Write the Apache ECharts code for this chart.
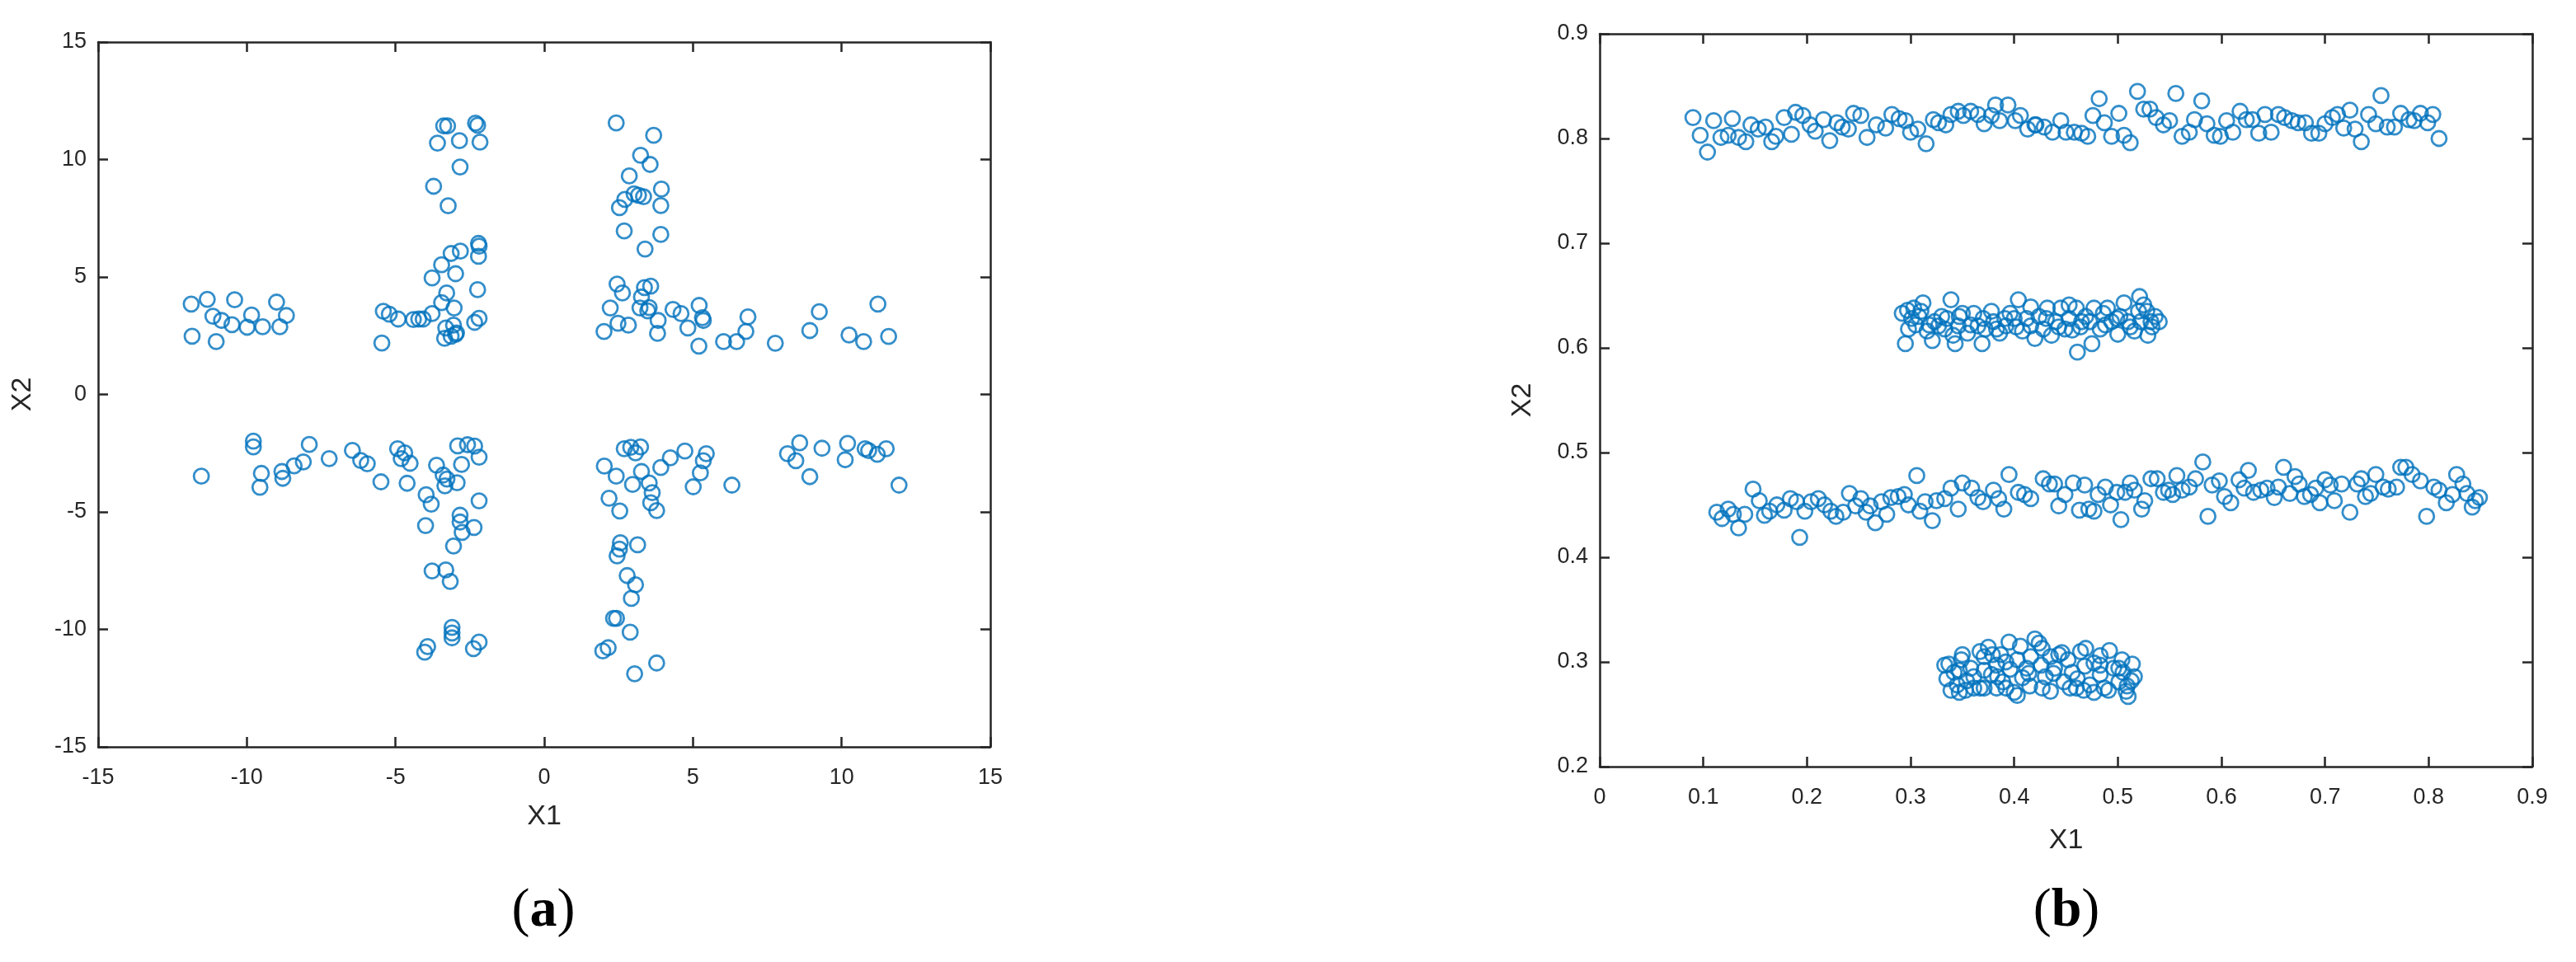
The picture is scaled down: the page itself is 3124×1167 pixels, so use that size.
<!DOCTYPE html>
<html>
<head>
<meta charset="utf-8">
<title>Scatter (a) / (b)</title>
<script src="https://cdn.jsdelivr.net/npm/echarts@6/dist/echarts.min.js"></script>
<style>
  html, body { margin: 0; padding: 0; background: #fff; }
  #chart { width: 3124px; height: 1167px; }
</style>
</head>
<body>
<div id="chart"></div>
<script>
// ---- panel (a): four arms of the cross, [X1, X2]
var aUpperLeft = [
  [-11.87,3.85],[-11.33,4.05],[-10.41,4.03],[-11.14,3.33],[-10.85,3.15],[-10.50,2.97],[-9.84,3.38],[-9.99,2.86],
  [-9.47,2.88],[-9.00,3.93],[-8.67,3.36],[-8.89,2.88],[-11.84,2.48],[-11.03,2.25],
  [-3.38,11.43],[-3.25,11.43],[-2.31,11.55],[-2.24,11.46],[-3.59,10.70],[-2.85,10.80],[-2.16,10.74],[-2.83,9.68],
  [-3.72,8.86],[-3.23,8.03],
  [-2.21,6.43],[-2.19,6.31],[-2.82,6.10],[-3.13,6.00],[-2.21,5.88],[-3.45,5.52],[-2.98,5.14],[-3.77,4.96],
  [-2.24,4.46],[-3.28,4.32],[-3.45,3.91],[-3.03,3.68],[-3.77,3.44],[-4.07,3.21],[-4.22,3.21],[-4.40,3.19],
  [-4.91,3.21],[-5.21,3.42],[-5.41,3.54],[-5.46,2.19],[-3.31,2.83],[-3.05,2.95],[-3.35,2.39],[-2.98,2.56],
  [-3.13,2.48],[-2.19,3.24],[-2.34,3.07],[-2.95,2.62]
];
var aUpperRight = [
  [2.42,11.56],[3.68,11.03],[3.24,10.18],[3.56,9.79],[2.86,9.30],[3.94,8.74],[3.02,8.54],[3.17,8.48],
  [3.34,8.42],[2.71,8.30],[2.53,7.95],[3.92,8.04],[2.69,6.96],[3.92,6.81],[3.39,6.19],
  [2.45,4.70],[2.63,4.32],[3.58,4.61],[3.37,4.55],[3.27,4.15],[2.22,3.68],[3.22,3.68],[3.53,3.70],
  [3.48,3.56],[4.33,3.62],[4.60,3.44],[5.21,3.79],[5.32,3.27],[5.35,3.15],[3.83,3.15],[2.48,3.03],
  [2.83,2.95],[2.01,2.68],[3.81,2.60],[4.83,2.83],[5.20,2.06],[6.03,2.25],[6.47,2.25],[6.78,2.68],
  [6.85,3.30],[7.77,2.18],[8.93,2.72],[9.25,3.52],[10.25,2.53],[10.74,2.25],[11.22,3.85],[11.58,2.47]
];
var aLowerLeft = [
  [-11.53,-3.48],[-9.78,-1.99],[-9.78,-2.23],[-9.51,-3.36],[-9.56,-3.95],[-8.82,-3.28],[-8.79,-3.57],
  [-8.41,-3.04],[-8.10,-2.87],[-7.90,-2.13],[-7.23,-2.73],[-6.45,-2.38],[-6.17,-2.81],[-5.95,-2.95],
  [-5.49,-3.72],[-4.93,-2.31],[-4.69,-2.49],[-4.81,-2.73],[-4.51,-2.93],[-4.61,-3.78],
  [-2.91,-2.19],[-2.58,-2.14],[-2.34,-2.20],[-2.19,-2.67],[-2.78,-2.98],[-3.62,-3.01],[-3.40,-3.43],
  [-3.27,-3.60],[-3.34,-3.89],[-2.93,-3.76],[-3.97,-4.27],[-3.80,-4.67],[-2.19,-4.53],[-3.99,-5.58],
  [-2.83,-5.14],[-2.83,-5.43],[-2.76,-5.87],[-2.36,-5.66],[-3.05,-6.45],[-3.77,-7.51],[-3.31,-7.47],
  [-3.16,-7.96],[-3.10,-9.92],[-3.10,-10.15],[-3.10,-10.36],[-2.19,-10.54],[-2.38,-10.82],[-3.92,-10.73],
  [-4.02,-10.97]
];
var aLowerRight = [
  [2.69,-2.31],[2.91,-2.25],[3.24,-2.23],[3.07,-2.49],[2.02,-3.05],[2.42,-3.48],[3.27,-3.28],[2.97,-3.83],
  [3.53,-3.77],[3.63,-4.18],[3.58,-4.61],[3.78,-4.94],[2.18,-4.42],[2.54,-4.96],[3.92,-3.11],[4.24,-2.70],
  [4.73,-2.41],[5.45,-2.52],[5.35,-2.82],[5.25,-3.34],[5.01,-3.93],[6.31,-3.86],[8.18,-2.52],[8.59,-2.06],
  [8.46,-2.82],[9.34,-2.29],[8.93,-3.50],[10.20,-2.08],[10.12,-2.78],[10.79,-2.31],[10.91,-2.39],
  [11.20,-2.55],[11.50,-2.31],[11.93,-3.86],
  [2.56,-6.31],[2.53,-6.58],[2.45,-6.87],[3.14,-6.40],[2.79,-7.71],[3.07,-8.10],[2.93,-8.68],[2.33,-9.53],
  [2.43,-9.53],[2.89,-10.12],[2.15,-10.78],[1.97,-10.92],[3.78,-11.43],[3.04,-11.89]
];

// ---- panel (b): four horizontal bands, [X1, X2]
var bBand08 = [
  [0.090,0.820],[0.097,0.803],[0.104,0.787],[0.110,0.817],[0.117,0.801],[0.128,0.819],[0.124,0.803],
  [0.134,0.801],[0.141,0.797],[0.146,0.813],[0.153,0.809],[0.160,0.811],[0.166,0.797],[0.170,0.802],
  [0.178,0.820],[0.185,0.804],[0.189,0.825],[0.196,0.822],[0.203,0.813],[0.208,0.807],[0.216,0.818],
  [0.222,0.798],[0.229,0.815],[0.234,0.811],[0.240,0.809],[0.245,0.824],[0.252,0.822],[0.258,0.801],
  [0.267,0.813],[0.276,0.810],[0.282,0.823],[0.289,0.819],[0.295,0.817],[0.300,0.806],[0.307,0.809],
  [0.315,0.795],[0.322,0.818],[0.327,0.815],[0.334,0.813],[0.339,0.823],[0.346,0.826],[0.351,0.822],
  [0.358,0.826],[0.365,0.823],[0.371,0.814],[0.378,0.822],[0.382,0.832],[0.386,0.817],[0.394,0.832],
  [0.401,0.817],[0.406,0.822],[0.413,0.809],[0.420,0.813],
  [0.421,0.813],[0.429,0.811],[0.437,0.806],[0.445,0.817],[0.450,0.806],[0.458,0.806],[0.465,0.805],
  [0.471,0.802],[0.476,0.822],[0.482,0.838],[0.487,0.815],[0.494,0.802],[0.501,0.824],[0.506,0.803],
  [0.512,0.796],[0.519,0.845],[0.525,0.828],[0.531,0.828],[0.537,0.820],[0.544,0.813],[0.550,0.817],
  [0.556,0.843],[0.562,0.802],[0.569,0.806],[0.574,0.818],[0.581,0.836],[0.586,0.814],[0.593,0.803],
  [0.599,0.802],[0.605,0.817],[0.611,0.806],[0.618,0.826],[0.624,0.818],[0.630,0.818],[0.636,0.805],
  [0.642,0.823],[0.648,0.806],[0.655,0.823],[0.661,0.820],[0.668,0.817],[0.674,0.815],[0.681,0.815],
  [0.687,0.805],[0.694,0.805],[0.700,0.814],[0.707,0.820],[0.712,0.823],[0.718,0.810],[0.724,0.827],
  [0.729,0.809],[0.735,0.797],[0.742,0.823],[0.749,0.814],[0.754,0.841],[0.760,0.811],[0.767,0.811],
  [0.773,0.824],[0.781,0.818],[0.786,0.817],[0.792,0.824],[0.799,0.815],[0.804,0.823],[0.810,0.800]
];
var bBand063 = [
  [0.295,0.604],[0.297,0.636],[0.298,0.618],[0.303,0.638],[0.305,0.622],[0.308,0.630],[0.312,0.643],
  [0.316,0.616],[0.321,0.607],[0.323,0.625],[0.330,0.630],[0.333,0.618],[0.339,0.646],[0.341,0.612],
  [0.343,0.604],[0.346,0.621],[0.350,0.633],[0.355,0.614],[0.361,0.633],[0.365,0.621],[0.369,0.604],
  [0.372,0.618],[0.378,0.635],[0.380,0.625],[0.386,0.614],[0.391,0.628],[0.396,0.633],[0.402,0.620],
  [0.404,0.646],[0.408,0.616],[0.412,0.628],[0.416,0.639],[0.420,0.609],[0.424,0.630],[0.428,0.618],
  [0.432,0.638],[0.436,0.612],[0.440,0.625],[0.445,0.638],[0.449,0.618],[0.453,0.641],[0.456,0.617],
  [0.460,0.638],[0.461,0.596],[0.465,0.625],[0.469,0.630],[0.475,0.604],[0.477,0.638],[0.483,0.618],
  [0.486,0.633],[0.490,0.638],[0.494,0.625],[0.500,0.613],[0.502,0.630],[0.506,0.643],[0.510,0.625],
  [0.516,0.616],[0.520,0.635],[0.521,0.649],[0.525,0.641],[0.529,0.612],[0.532,0.625],[0.536,0.630],
  [0.292,0.633],[0.301,0.628],[0.310,0.635],[0.318,0.622],[0.327,0.621],[0.335,0.628],[0.347,0.630],
  [0.358,0.622],[0.370,0.628],[0.383,0.618],[0.392,0.621],[0.400,0.628],[0.416,0.621],[0.431,0.628],
  [0.443,0.620],[0.453,0.628],[0.464,0.620],[0.473,0.625],[0.488,0.622],[0.499,0.628],[0.512,0.620],
  [0.522,0.625],[0.533,0.620],[0.540,0.625],[0.528,0.635]
];
var bBand046 = [
  [0.113,0.443],[0.118,0.437],[0.124,0.446],[0.129,0.441],[0.134,0.428],[0.140,0.441],[0.148,0.465],
  [0.154,0.454],[0.159,0.440],[0.164,0.444],[0.171,0.450],[0.178,0.445],[0.184,0.456],[0.190,0.453],
  [0.193,0.419],[0.198,0.444],[0.204,0.453],[0.211,0.456],[0.217,0.450],[0.223,0.444],[0.228,0.439],
  [0.235,0.443],[0.241,0.461],[0.247,0.449],[0.252,0.456],[0.257,0.443],[0.261,0.449],[0.266,0.433],
  [0.272,0.453],[0.277,0.441],[0.281,0.457],[0.288,0.458],[0.294,0.460],[0.298,0.450],[0.306,0.478],
  [0.309,0.444],[0.314,0.453],[0.321,0.435],[0.325,0.454],[0.333,0.456],[0.339,0.466],[0.346,0.446],
  [0.350,0.471],[0.359,0.466],[0.365,0.457],[0.370,0.453],[0.380,0.464],[0.385,0.456],[0.390,0.446],
  [0.395,0.479],[0.404,0.462],[0.410,0.460],[0.416,0.456],[0.428,0.475],[0.434,0.470],[0.439,0.470],
  [0.443,0.449],[0.449,0.460],[0.457,0.471],[0.463,0.445],[0.468,0.469],[0.472,0.446],
  [0.477,0.444],[0.481,0.460],[0.488,0.467],[0.493,0.450],[0.499,0.462],[0.503,0.436],[0.507,0.462],
  [0.512,0.471],[0.516,0.464],[0.523,0.446],[0.526,0.454],[0.532,0.475],[0.538,0.475],[0.544,0.462],
  [0.549,0.464],[0.553,0.460],[0.557,0.478],[0.562,0.464],[0.569,0.467],[0.575,0.475],[0.582,0.491],
  [0.587,0.439],[0.591,0.469],[0.598,0.473],[0.603,0.458],[0.609,0.452],[0.617,0.474],[0.622,0.466],
  [0.626,0.483],[0.631,0.462],[0.638,0.464],[0.644,0.466],[0.651,0.457],[0.655,0.467],[0.660,0.486],
  [0.666,0.461],[0.671,0.477],[0.675,0.470],[0.680,0.458],[0.686,0.460],[0.691,0.466],[0.695,0.452],
  [0.700,0.474],[0.705,0.469],[0.709,0.454],[0.716,0.470],[0.724,0.443],[0.731,0.470],[0.735,0.475],
  [0.739,0.458],[0.744,0.461],[0.749,0.479],[0.756,0.467],[0.761,0.465],[0.769,0.467],[0.773,0.486],
  [0.778,0.486],[0.784,0.479],[0.792,0.473],[0.798,0.439],[0.805,0.467],[0.810,0.464],[0.817,0.452],
  [0.823,0.460],[0.827,0.479],[0.833,0.470],[0.837,0.461],[0.842,0.448],[0.845,0.454],[0.849,0.457]
];
var bBand029 = [
  [0.337,0.298],[0.335,0.284],[0.342,0.290],[0.347,0.271],[0.349,0.302],[0.354,0.282],[0.358,0.294],
  [0.361,0.275],[0.367,0.275],[0.371,0.305],[0.375,0.314],[0.378,0.288],[0.383,0.297],[0.389,0.281],
  [0.395,0.319],[0.396,0.293],[0.400,0.271],[0.403,0.302],[0.408,0.285],[0.412,0.294],[0.416,0.305],
  [0.420,0.322],[0.424,0.318],[0.426,0.297],[0.430,0.286],[0.435,0.272],[0.439,0.294],[0.443,0.307],
  [0.448,0.281],[0.452,0.302],[0.456,0.290],[0.460,0.275],[0.464,0.310],[0.468,0.296],[0.473,0.278],
  [0.477,0.299],[0.483,0.288],[0.487,0.275],[0.492,0.311],[0.496,0.294],[0.501,0.281],[0.505,0.290],
  [0.508,0.272],[0.510,0.267],[0.514,0.298],[0.513,0.282],[0.345,0.278],[0.367,0.310],[0.387,0.307],
  [0.435,0.305],[0.477,0.271],[0.403,0.268],[0.383,0.275],
  [0.333,0.297],[0.350,0.307],[0.379,0.307],[0.406,0.315],[0.427,0.313],[0.446,0.309],[0.469,0.313],
  [0.483,0.306],[0.504,0.302],[0.516,0.286],[0.509,0.277],[0.491,0.273],[0.467,0.273],[0.454,0.275],
  [0.427,0.275],[0.415,0.277],[0.392,0.275],[0.371,0.275],[0.353,0.273],[0.339,0.273],[0.371,0.292],
  [0.392,0.300],[0.414,0.289],[0.438,0.289],[0.461,0.284],[0.483,0.297],[0.501,0.294],[0.347,0.292],
  [0.361,0.286],[0.384,0.286]
];

var ink = '#262626';
var markColor = '#0072BD';
var tickFont = { fontFamily: 'Liberation Sans, Arial, sans-serif', fontSize: 27, color: ink };
var nameFont = { fontFamily: 'Liberation Sans, Arial, sans-serif', fontSize: 34, color: ink };

function axis(grid, pos, min, max, step, showLabel, name, gap) {
  var a = {
    gridIndex: grid, type: 'value', position: pos, min: min, max: max, interval: step,
    axisLine: { onZero: false, lineStyle: { color: ink, width: 2.5 } },
    axisTick: { inside: true, length: 12, lineStyle: { color: ink, width: 2.5 } },
    axisLabel: Object.assign({ show: showLabel, margin: pos === 'left' ? 14 : 24 }, tickFont),
    splitLine: { show: false }
  };
  if (name) {
    a.name = name;
    a.nameLocation = 'middle';
    a.nameGap = gap;
    a.nameTextStyle = nameFont;
  }
  return a;
}

function dots(data, xi, yi) {
  return {
    type: 'scatter', data: data, xAxisIndex: xi, yAxisIndex: yi,
    symbol: 'circle', symbolSize: 18,
    itemStyle: { color: 'rgba(0,0,0,0)', borderColor: markColor, borderWidth: 2.8 },
    silent: true
  };
}

var myChart = echarts.init(document.getElementById('chart'));
var option = {
  animation: false,
  backgroundColor: '#fff',
  grid: [
    { left: 119, top: 51, width: 1082, height: 855 },
    { left: 1940, top: 41, width: 1131, height: 889 }
  ],
  xAxis: [
    axis(0, 'bottom', -15, 15, 5, true, 'X1', 68),
    axis(0, 'top', -15, 15, 5, false),
    axis(1, 'bottom', 0, 0.9, 0.1, true, 'X1', 73),
    axis(1, 'top', 0, 0.9, 0.1, false)
  ],
  yAxis: [
    axis(0, 'left', -15, 15, 5, true, 'X2', 74),
    axis(0, 'right', -15, 15, 5, false),
    axis(1, 'left', 0.2, 0.9, 0.1, true, 'X2', 76),
    axis(1, 'right', 0.2, 0.9, 0.1, false)
  ],
  graphic: [
    { type: 'text', x: 659, y: 1106, style: {
      text: '{p|(}{b|a}{p|)}', align: 'center', verticalAlign: 'middle',
      rich: { p: { fontFamily: 'Liberation Serif, Times New Roman, serif', fontSize: 66, fill: '#000' },
              b: { fontFamily: 'Liberation Serif, Times New Roman, serif', fontSize: 66, fontWeight: 'bold', fill: '#000' } } } },
    { type: 'text', x: 2506, y: 1106, style: {
      text: '{p|(}{b|b}{p|)}', align: 'center', verticalAlign: 'middle',
      rich: { p: { fontFamily: 'Liberation Serif, Times New Roman, serif', fontSize: 66, fill: '#000' },
              b: { fontFamily: 'Liberation Serif, Times New Roman, serif', fontSize: 66, fontWeight: 'bold', fill: '#000' } } } }
  ],
  series: [
    dots(aUpperLeft, 0, 0), dots(aUpperRight, 0, 0), dots(aLowerLeft, 0, 0), dots(aLowerRight, 0, 0),
    dots(bBand08, 2, 2), dots(bBand063, 2, 2), dots(bBand046, 2, 2), dots(bBand029, 2, 2)
  ]
};
myChart.setOption(option);
</script>
</body>
</html>
